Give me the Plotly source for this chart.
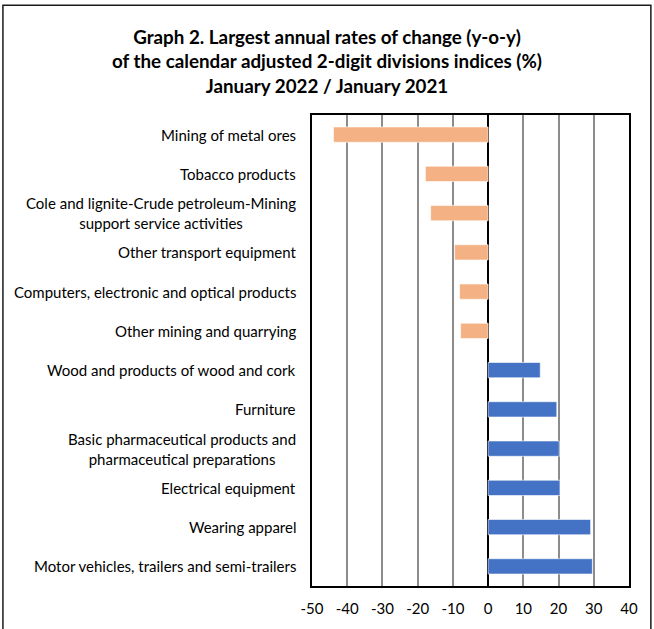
import plotly.graph_objects as go

# divisions, top to bottom as in the source chart
divisions = [
    "Mining of metal ores",
    "Tobacco products",
    "Cole and lignite-Crude petroleum-Mining<br>support service activities",
    "Other transport equipment",
    "Computers, electronic and optical products",
    "Other mining and quarrying",
    "Wood and products of wood and cork",
    "Furniture",
    "Basic pharmaceutical products and<br>pharmaceutical preparations",
    "Electrical equipment",
    "Wearing apparel",
    "Motor vehicles, trailers and semi-trailers",
]
rates = [-43.9, -17.8, -16.3, -9.5, -8.1, -7.8, 14.8, 19.5, 20.2, 20.4, 29.1, 29.6]
x_ticks = [-50, -40, -30, -20, -10, 0, 10, 20, 30, 40]
x_tick_labels = ["-50", "-40", "-30", "-20", "-10", "0", "10", "20", "30", "40"]

neg_color = "#F4B183"
pos_color = "#4472C4"
font_family = "Lato, 'Open Sans', sans-serif"

fig = go.Figure()
fig.add_trace(go.Bar(
    x=rates,
    y=divisions,
    orientation="h",
    width=0.39,
    marker=dict(
        color=[neg_color if v < 0 else pos_color for v in rates],
        line=dict(color="white", width=0.6),
    ),
    showlegend=False,
))

# category labels: right-aligned block, lines centred (like the Excel original)
for name in divisions:
    fig.add_annotation(
        x=0, xref="paper", y=name, yref="y",
        xanchor="right", xshift=-14,
        text=name, align="center", showarrow=False,
        font=dict(family=font_family, size=15, color="black"),
    )

# outer frame of the graph
fig.add_shape(
    type="rect", xref="paper", yref="paper",
    x0=-0.975, x1=1.069, y0=-0.2, y1=1.233,
    line=dict(color="#1a1a1a", width=1.5),
    layer="below",
)

fig.update_layout(
    width=654, height=629,
    margin=dict(l=312, r=25, t=115, b=40),
    paper_bgcolor="white", plot_bgcolor="white",
    title=dict(
        text="Graph 2. Largest annual rates of change (y-o-y)<br>"
             "of the calendar adjusted 2-digit divisions indices (%)<br>"
             "January 2022 / January 2021",
        x=0.5, xanchor="center", xref="container",
        y=0.93, yanchor="top",
        font=dict(family=font_family, size=18.8, color="black", weight="bold"),
    ),
    font=dict(family=font_family, size=15, color="black"),
)

fig.update_xaxes(
    range=[-50, 40], tickvals=x_ticks, ticktext=x_tick_labels,
    showgrid=True, gridcolor="#8c8c8c", gridwidth=1.6,
    zeroline=True, zerolinecolor="black", zerolinewidth=2,
    showline=True, mirror=True, linecolor="black", linewidth=2,
    ticks="", ticklabelstandoff=8,
    tickfont=dict(family=font_family, size=15, color="black"),
    fixedrange=True,
)
fig.update_yaxes(
    categoryorder="array", categoryarray=divisions,
    range=[11.5, -0.5], showticklabels=False,
    showgrid=False, zeroline=False,
    showline=True, mirror=True, linecolor="black", linewidth=2,
    ticks="", fixedrange=True,
)

fig.write_html(
    "out.html",
    config={"displayModeBar": False},
    post_script="document.body.style.margin = '0';",
)
